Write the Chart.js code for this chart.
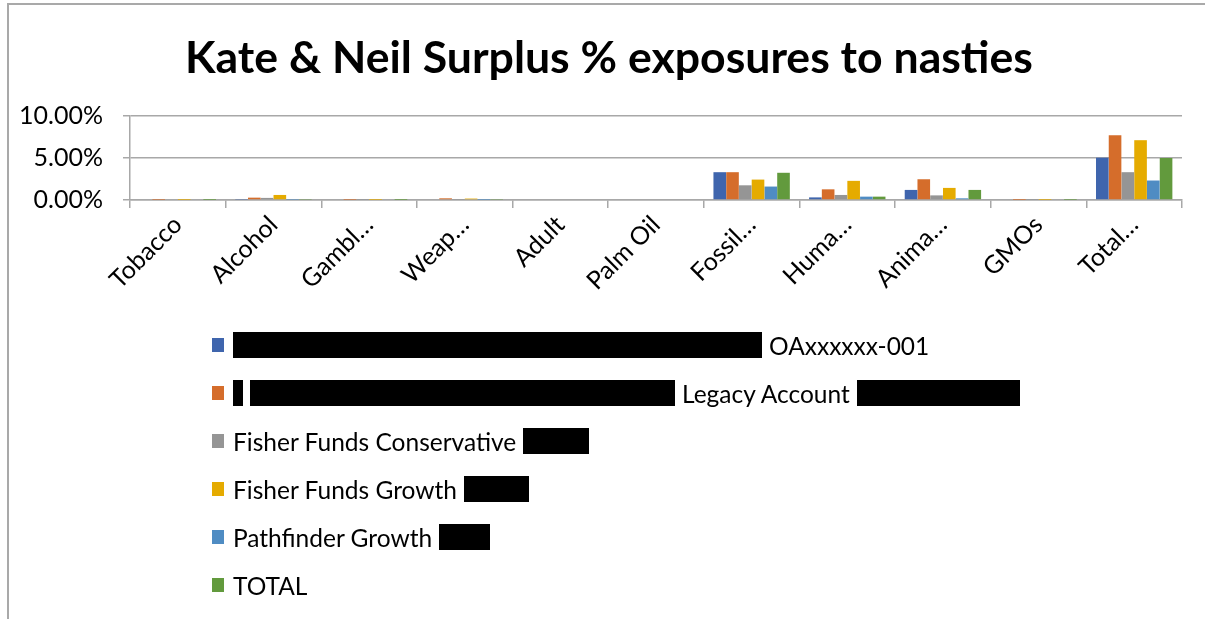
<!DOCTYPE html>
<html>
<head>
<meta charset="utf-8">
<script src="https://cdn.jsdelivr.net/npm/chart.js@4.4.1/dist/chart.umd.min.js"></script>
<style>
    html, body { margin: 0; padding: 0; background: #fff; }
    #wrap { position: relative; width: 1205px; height: 619px; overflow: hidden; font-family: Lato, sans-serif; }
    #frame { position: absolute; left: 7px; top: 3px; width: 1210px; height: 630px; border-top: 2px solid #a9a9a9; border-left: 2px solid #a9a9a9; }
    #myChart { position: absolute; left: 0; top: 0; }
    #title { position: absolute; left: 0; top: 29px; width: 1218px; height: 54px; line-height: 54px; text-align: center; font-size: 44.6px; font-weight: bold; color: #000; white-space: nowrap; }
    #legend { position: absolute; left: 212px; top: 321px; }
    .row { height: 48px; display: flex; align-items: center; font-size: 24.5px; color: #000; white-space: nowrap; }
    .swatch { width: 12px; height: 14px; margin-right: 9px; flex: none; }
    .redact { display: inline-block; height: 26px; background: #000; flex: none; }
</style>
</head>
<body>
<div id="wrap">
    <div id="frame"></div>
    <canvas id="myChart" width="1205" height="619"></canvas>
    <div id="title">Kate &amp; Neil Surplus % exposures to nasties</div>
    <div id="legend"></div>
</div>
<script>
// categories as they show on the axis (Excel cut the long ones)
const categories = ['Tobacco', 'Alcohol', 'Gambl…', 'Weap…', 'Adult', 'Palm Oil', 'Fossil…', 'Huma…', 'Anima…', 'GMOs', 'Total…'];

const seriesNames = ['OAxxxxxx-001', 'Legacy Account', 'Fisher Funds Conservative', 'Fisher Funds Growth', 'Pathfinder Growth', 'TOTAL'];

// values in %
const oaAccount    = [0.00, 0.05, 0.00, 0.00, 0, 0, 3.31, 0.31, 1.20, 0.00, 5.04];
const legacy       = [0.02, 0.28, 0.02, 0.20, 0, 0, 3.31, 1.27, 2.47, 0.01, 7.72];
const ffConserv    = [0.00, 0.25, 0.01, 0.03, 0, 0, 1.75, 0.60, 0.55, 0.01, 3.31];
const ffGrowth     = [0.01, 0.60, 0.01, 0.17, 0, 0, 2.43, 2.28, 1.44, 0.01, 7.12];
const pathfinder   = [0.00, 0.03, 0.00, 0.02, 0, 0, 1.60, 0.40, 0.20, 0.00, 2.32];
const totalExp     = [0.01, 0.05, 0.01, 0.05, 0, 0, 3.24, 0.40, 1.20, 0.02, 5.00];

const yTicks = [0, 5, 10];

const colors = ['#3f65ad', '#d56d2b', '#959595', '#e5ab00', '#4f8cc3', '#629a3d'];

// redaction boxes in the legend (widths before / after the name)
const redactions = [
    { before: [529], after: [] },
    { before: [10, 425], after: [163] },
    { before: [], after: [66] },
    { before: [], after: [65] },
    { before: [], after: [51] },
    { before: [], after: [] }
];

const allSeries = [oaAccount, legacy, ffConserv, ffGrowth, pathfinder, totalExp];

const ctx = document.getElementById('myChart').getContext('2d');

const myChart = new Chart(ctx, {
    type: 'bar',
    data: {
        labels: categories,
        datasets: allSeries.map((vals, i) => ({
            label: seriesNames[i],
            data: vals,
            backgroundColor: colors[i],
            borderWidth: 0,
            categoryPercentage: 0.8,
            barPercentage: 0.99
        }))
    },
    options: {
        responsive: false,
        animation: false,
        layout: {
            // top space is for the html title
            padding: { left: 0, right: 23, top: 116, bottom: 309 }
        },
        plugins: {
            legend: { display: false },
            tooltip: { enabled: false },
            title: { display: false }
        },
        scales: {
            x: {
                grid: {
                    offset: true,
                    drawOnChartArea: false,
                    color: '#a8a8a8',
                    lineWidth: 1.5,
                    tickLength: 8
                },
                border: { color: '#a8a8a8', width: 1.5 },
                ticks: {
                    color: '#000',
                    font: { family: 'Lato', size: 25 },
                    minRotation: 45,
                    maxRotation: 45,
                    autoSkip: false,
                    padding: 2
                },
                afterFit: function (scale) {
                    scale.height = 110;
                }
            },
            y: {
                min: 0,
                max: 10,
                afterBuildTicks: function (scale) {
                    scale.ticks = yTicks.map(v => ({ value: v }));
                },
                grid: {
                    color: '#a8a8a8',
                    lineWidth: 1.5,
                    tickLength: 7
                },
                border: { color: '#a8a8a8', width: 1.5 },
                ticks: {
                    color: '#000',
                    font: { family: 'Lato', size: 25 },
                    padding: 20,
                    callback: v => v.toFixed(2) + '%'
                },
                afterFit: function (scale) {
                    scale.width = 130;
                }
            }
        }
    }
});

// legend drawn as html list, one row per series
const legendBox = document.getElementById('legend');
myChart.data.datasets.forEach((ds, i) => {
    const row = document.createElement('div');
    row.className = 'row';
    const sw = document.createElement('span');
    sw.className = 'swatch';
    sw.style.background = ds.backgroundColor;
    row.appendChild(sw);
    const r = redactions[i];
    r.before.forEach(w => {
        const b = document.createElement('span');
        b.className = 'redact';
        b.style.width = w + 'px';
        b.style.marginRight = '7px';
        row.appendChild(b);
    });
    const txt = document.createElement('span');
    txt.textContent = ds.label;
    row.appendChild(txt);
    r.after.forEach(w => {
        const b = document.createElement('span');
        b.className = 'redact';
        b.style.width = w + 'px';
        b.style.marginLeft = '7px';
        row.appendChild(b);
    });
    legendBox.appendChild(row);
});
</script>
</body>
</html>
